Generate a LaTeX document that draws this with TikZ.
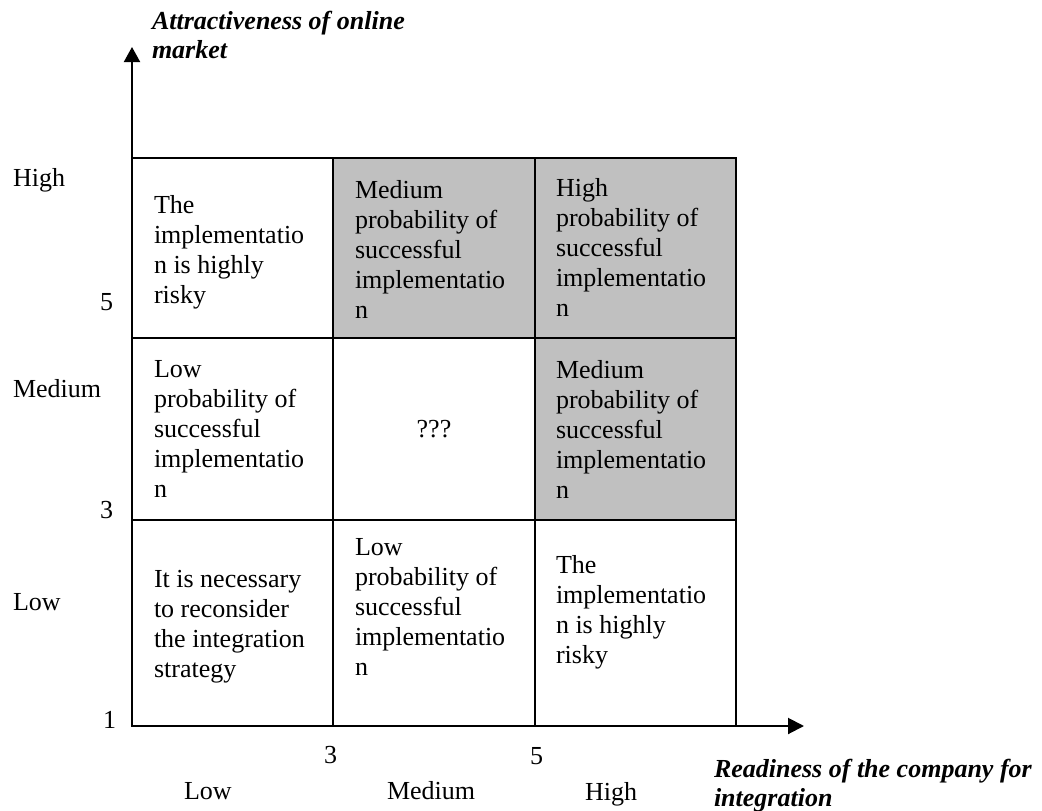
\documentclass[tikz,border=0pt]{standalone}
\usepackage{fontspec}
\setmainfont{Liberation Serif}
\usetikzlibrary{arrows.meta}
\definecolor{cellgray}{HTML}{C0C0C0}
\tikzset{
  celltext/.style={anchor=north west,inner sep=0pt,align=left,font=\fontsize{26}{30}\selectfont},
  axislabel/.style={anchor=base west,inner sep=0pt,font=\fontsize{26}{30}\selectfont},
  axistitle/.style={anchor=north west,inner sep=0pt,align=left,font=\fontsize{26}{29}\selectfont\bfseries\itshape},
}
\begin{document}
\begin{tikzpicture}[x=1pt,y=-1pt,line width=2pt]
\useasboundingbox (0,0) rectangle (1042,811);
%
\fill[cellgray] (333,158) rectangle (736,338);
\fill[cellgray] (535,338) rectangle (736,520);
\draw (132,158) rectangle (736,726);
\foreach \x in {333,535} \draw (\x,158) -- (\x,726);
\foreach \y in {338,520} \draw (132,\y) -- (736,\y);
%
\coordinate (o)    at (132,726);
\coordinate (ytip) at (132,47);
\coordinate (xtip) at (804,726);
\draw[-{Triangle[length=15pt,width=16pt]}] (o) -- (ytip);
\draw[-{Triangle[length=16pt,width=16pt]}] (o) -- (xtip);
%
\node[axistitle] (ytitle) at (151,10)  {Attractiveness of online\\market};
\node[axistitle] (xtitle) at (713,758) {Readiness of the company for\\integration};
%
\node[axislabel] (yhigh) at (12,186) {High};
\node[axislabel] (ymed)  at (12,397) {Medium};
\node[axislabel] (ylow)  at (12,610) {Low};
\node[axislabel,anchor=base east] (y5) at (114,310) {5};
\node[axislabel,anchor=base east] (y3) at (114,518) {3};
\node[axislabel,anchor=base east] (y1) at (117,728) {1};
\node[axislabel] (x3)    at (323,763) {3};
\node[axislabel] (x5)    at (529,764) {5};
\node[axislabel] (xlow)  at (183,799) {Low};
\node[axislabel] (xmed)  at (386,799) {Medium};
\node[axislabel] (xhigh) at (584,800) {High};
%
\node[celltext] (c11) at (153,194) {The\\implementatio\\n is highly\\risky};
\node[celltext] (c12) at (354,179) {Medium\\probability of\\successful\\implementatio\\n};
\node[celltext] (c13) at (555,177) {High\\probability of\\successful\\implementatio\\n};
\node[celltext] (c21) at (153,359) {Low\\probability of\\successful\\implementatio\\n};
\node[celltext,anchor=center] (c22) at (434,429) {???};
\node[celltext] (c23) at (555,359) {Medium\\probability of\\successful\\implementatio\\n};
\node[celltext] (c31) at (153,569) {It is necessary\\to reconsider\\the integration\\strategy};
\node[celltext] (c32) at (354,537) {Low\\probability of\\successful\\implementatio\\n};
\node[celltext] (c33) at (555,554) {The\\implementatio\\n is highly\\risky};
\end{tikzpicture}
\end{document}
